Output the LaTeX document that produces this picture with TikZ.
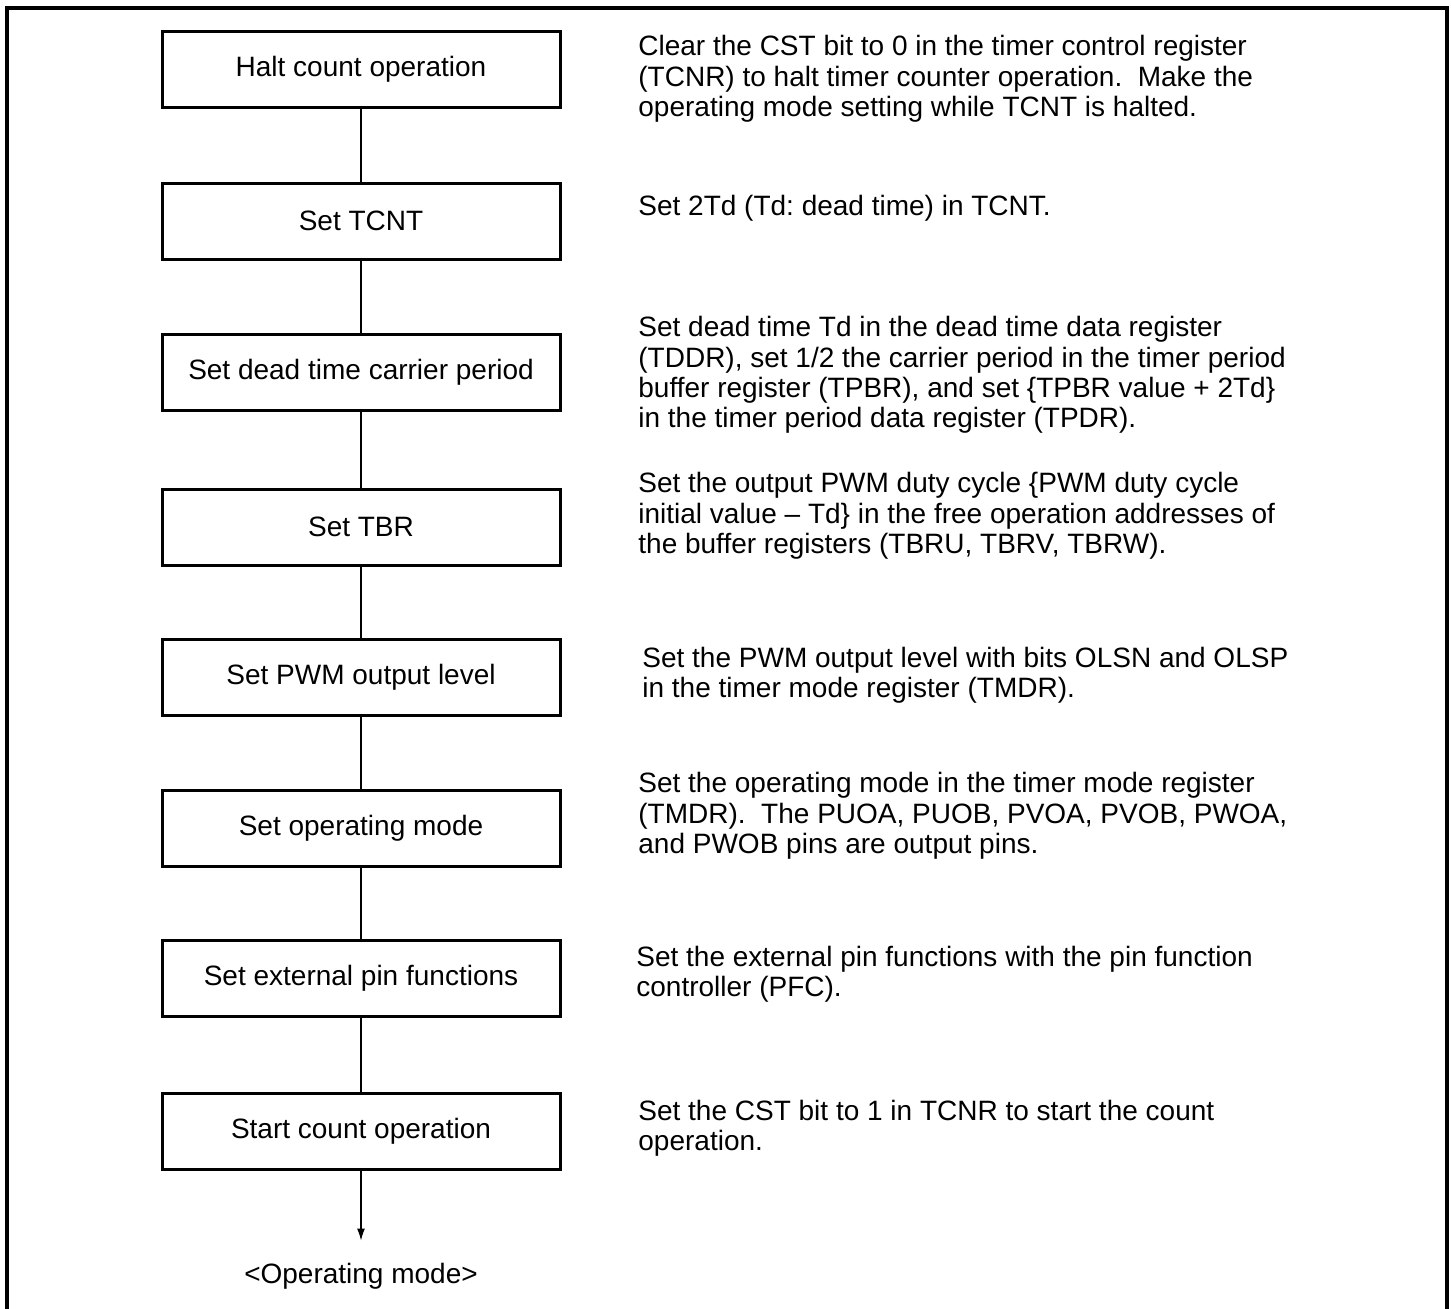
\documentclass[tikz,border=0pt]{standalone}
\usepackage{fontspec}
\setmainfont{Liberation Sans}
\usetikzlibrary{arrows.meta}
\frenchspacing

\tikzset{
  stepbox/.style={draw, line width=1.5pt, minimum width=199pt, minimum height=38pt, inner sep=0pt},
  note/.style={anchor=west, align=left, inner sep=0pt},
  link/.style={line width=0.6pt}
}

\begin{document}
\begin{tikzpicture}[x=0.5pt, y=-0.5pt, font=\fontsize{14}{15.2}\selectfont]
        \useasboundingbox (0,0) rectangle (1451,1308);
        % frame, open at the bottom
        \draw[line width=2pt] (7,1330) -- (7,8) -- (1447,8) -- (1447,1330);

        % flow steps
        \node[stepbox] (halt) at (361,69) {Halt count operation};
        \node[stepbox] (tcnt) at (361,221) {Set TCNT};
        \node[stepbox] (dead) at (361,372) {Set dead time carrier period};
        \node[stepbox] (tbr) at (361,527) {Set TBR};
        \node[stepbox] (level) at (361,677) {Set PWM output level};
        \node[stepbox] (mode) at (361,828) {Set operating mode};
        \node[stepbox] (pins) at (361,978) {Set external pin functions};
        \node[stepbox] (start) at (361,1131) {Start count operation};
        \node[inner sep=0pt] (opmode) at (361,1276) {<Operating mode>};

        \draw[link] (halt) -- (tcnt);
        \draw[link] (tcnt) -- (dead);
        \draw[link] (dead) -- (tbr);
        \draw[link] (tbr) -- (level);
        \draw[link] (level) -- (mode);
        \draw[link] (mode) -- (pins);
        \draw[link] (pins) -- (start);
        \draw[link, -{Latex[length=6pt, width=4pt]}, shorten >=11pt] (start) -- (opmode);

        % notes
        \node[note] (n1) at (638,79) {Clear the CST bit to 0 in the timer control register\\(TCNR) to halt timer counter operation.\ \ Make the\\operating mode setting while TCNT is halted.};
        \node[note] (n2) at (638,208) {Set 2Td (Td: dead time) in TCNT.};
        \node[note] (n3) at (638,375) {Set dead time Td in the dead time data register\\(TDDR), set 1/2 the carrier period in the timer period\\buffer register (TPBR), and set \{TPBR value + 2Td\}\\in the timer period data register (TPDR).};
        \node[note] (n4) at (638,516) {Set the output PWM duty cycle \{PWM duty cycle\\initial value – Td\} in the free operation addresses of\\the buffer registers (TBRU, TBRV, TBRW).};
        \node[note] (n5) at (642,675) {Set the PWM output level with bits OLSN and OLSP\\in the timer mode register (TMDR).};
        \node[note] (n6) at (638,816) {Set the operating mode in the timer mode register\\(TMDR).\ \ The PUOA, PUOB, PVOA, PVOB, PWOA,\\and PWOB pins are output pins.};
        \node[note] (n7) at (636,974) {Set the external pin functions with the pin function\\controller (PFC).};
        \node[note] (n8) at (638,1128) {Set the CST bit to 1 in TCNR to start the count\\operation.};
    \end{tikzpicture}
\end{document}
